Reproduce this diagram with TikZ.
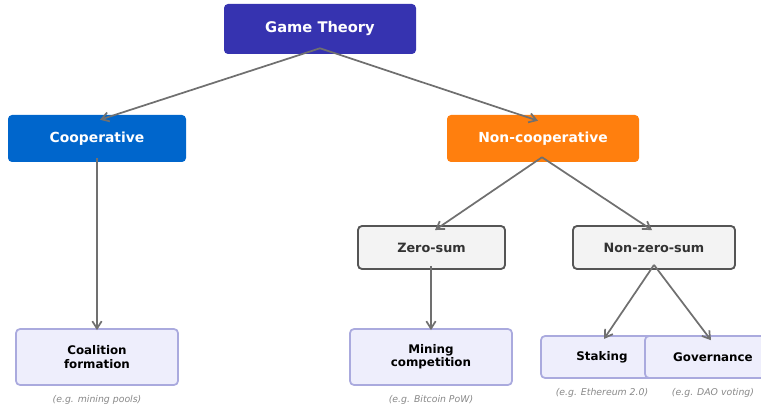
\documentclass[tikz,border=0pt]{standalone}
\usepackage{fontspec}
\setmainfont{DejaVu Sans}
\usetikzlibrary{arrows.meta,calc}
\definecolor{gtc}{RGB}{54,51,176}
\definecolor{coopc}{RGB}{0,102,204}
\definecolor{ncoopc}{RGB}{255,127,14}
\definecolor{grayfill}{RGB}{243,243,243}
\definecolor{grayedge}{RGB}{85,85,85}
\definecolor{leaffill}{RGB}{238,238,252}
\definecolor{leafedge}{RGB}{170,170,222}
\definecolor{arrowc}{RGB}{112,112,112}
\definecolor{capc}{RGB}{136,136,136}
\definecolor{darktext}{RGB}{51,51,51}
\tikzset{
  topbox/.style={rectangle, rounded corners=3pt, inner sep=0pt, text=white,
    font=\bfseries\fontsize{11}{13}\selectfont},
  midbox/.style={rectangle, rounded corners=3pt, inner sep=0pt, text=white,
    minimum height=35.25pt, font=\bfseries\fontsize{10.4}{12}\selectfont},
  subbox/.style={rectangle, rounded corners=3pt, inner sep=0pt, fill=grayfill,
    draw=grayedge, line width=1.4pt, text=darktext, minimum height=32.25pt,
    font=\bfseries\fontsize{9.6}{11}\selectfont},
  leafbox/.style={rectangle, rounded corners=3pt, inner sep=0pt, fill=leaffill,
    draw=leafedge, line width=1.3pt, minimum width=121.5pt, align=center,
    font=\bfseries\fontsize{8.9}{10}\selectfont},
  leaftext/.style={inner sep=0pt, align=center, font=\bfseries\fontsize{8.9}{10}\selectfont},
  caption/.style={inner sep=0pt, text=capc, font=\itshape\fontsize{7}{8}\selectfont},
  conn/.style={draw=arrowc, line width=1.3pt, -{Straight Barb[length=5.5pt,width=7pt,line width=1.3pt]}},
}
\begin{document}
\begin{tikzpicture}[x=0.75pt,y=-0.75pt]
\useasboundingbox (0,0) rectangle (761,406);
\begin{scope}
\clip (0,0) rectangle (761,406);
% top
\node[topbox, fill=gtc, minimum width=144pt, minimum height=37.5pt] (gt) at (320,29) {Game Theory};
% level 1
\node[midbox, fill=coopc, minimum width=133.5pt] (coop) at (97,138.5) {Cooperative};
\node[midbox, fill=ncoopc, minimum width=144pt] (ncoop) at (543,138.5) {Non-cooperative};
% level 2
\node[subbox, minimum width=110.25pt] (zs) at (431.5,247.5) {Zero-sum};
\node[subbox, minimum width=121.5pt] (nzs) at (654,247.5) {Non-zero-sum};
% leaves
\node[leafbox, minimum height=42pt] (coal) at (97,357) {Coalition\\formation};
\node[leafbox, minimum height=42pt] (mine) at (431,357) {Mining\\competition};
\node[leafbox, minimum height=31.5pt] (stk) at (622,357) {};
\node[leaftext] (stkt) at (602,357) {Staking};
\node[leafbox, minimum height=31.5pt] (gov) at (726,357) {};
\node[leaftext] (govt) at (713,357) {Governance};
% captions
\node[caption] (capcoal) at (97,400) {(e.g. mining pools)};
\node[caption] (capmine) at (431,400) {(e.g. Bitcoin PoW)};
\node[caption] (capstk) at (602,393) {(e.g. Ethereum 2.0)};
\node[caption] (capgov) at (713,393) {(e.g. DAO voting)};
\end{scope}
% connectors
\draw[conn] ($(gt.south)+(0,-6)$) -- ($(coop.north)+(3,5)$);
\draw[conn] ($(gt.south)+(0,-6)$) -- ($(ncoop.north)+(-5,6)$);
\draw[conn] ($(coop.south)+(0,-4)$) -- ($(coal.north)+(0,2)$);
\draw[conn] ($(ncoop.south)+(-1,-5)$) -- ($(zs.north)+(3.5,5)$);
\draw[conn] ($(ncoop.south)+(-1,-5)$) -- ($(nzs.north)+(-2,5)$);
\draw[conn] ($(zs.south)+(-0.5,-4)$) -- ($(mine.north)+(0,2)$);
\draw[conn] ($(nzs.south)+(0,-5)$) -- ($(stkt.north)+(2,-12)$);
\draw[conn] ($(nzs.south)+(0,-5)$) -- ($(govt.north)+(-2,-12)$);
\end{tikzpicture}
\end{document}
